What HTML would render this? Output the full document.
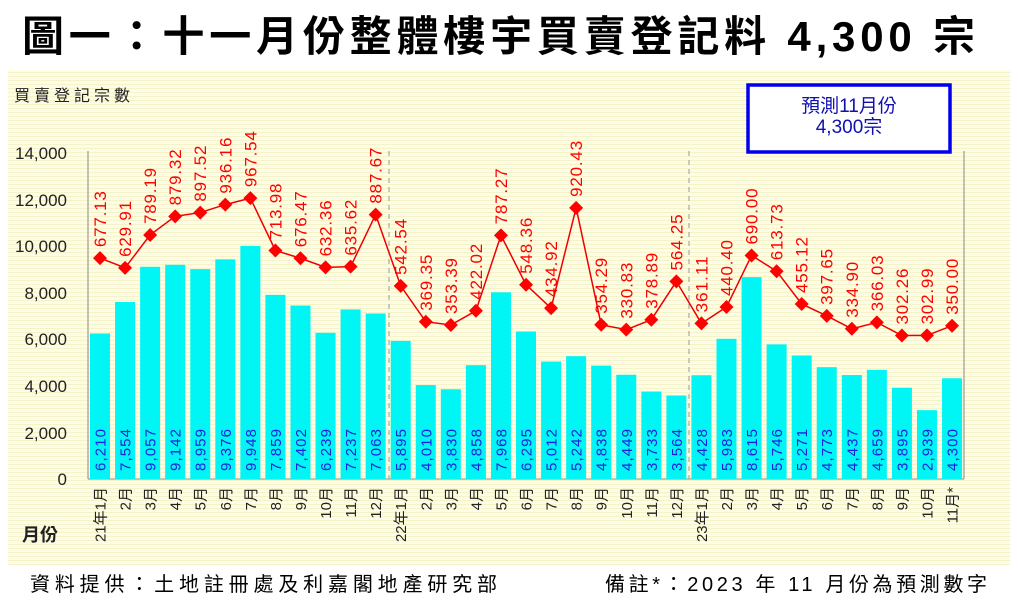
<!DOCTYPE html>
<html><head><meta charset="utf-8"><style>
body{margin:0;background:#fff;width:1018px;height:600px;overflow:hidden}
svg{display:block}
</style></head><body>
<svg width="1018" height="600" xmlns="http://www.w3.org/2000/svg" font-family="'Liberation Sans','Noto Sans CJK TC',sans-serif">
<defs><pattern id="st" width="4" height="4" patternUnits="userSpaceOnUse"><rect width="4" height="4" fill="#fdfce6"/><rect width="4" height="1" fill="#f7f3c8"/></pattern></defs>
<text x="22" y="51" font-size="42" font-weight="bold" fill="#000" textLength="953" lengthAdjust="spacing">圖一：十一月份整體樓宇買賣登記料 4,300 宗</text>
<rect x="8" y="70" width="1002" height="495" fill="url(#st)"/>
<text x="14" y="101" font-size="16" fill="#222" textLength="116">買賣登記宗數</text>
<text x="22" y="541" font-size="18" font-weight="bold" fill="#222">月份</text>
<g font-size="17" fill="#222" text-anchor="end">
<text x="67" y="159">14,000</text><text x="67" y="206">12,000</text><text x="67" y="252">10,000</text>
<text x="67" y="299">8,000</text><text x="67" y="345">6,000</text><text x="67" y="392">4,000</text>
<text x="67" y="439">2,000</text><text x="67" y="485">0</text></g>
<line x1="88" y1="151" x2="88" y2="479" stroke="#888"/>
<line x1="964" y1="151" x2="964" y2="479" stroke="#888"/>
<line x1="88" y1="479" x2="964" y2="479" stroke="#888"/>
<line x1="389" y1="151" x2="389" y2="479" stroke="#999" stroke-dasharray="5,4"/>
<line x1="689" y1="151" x2="689" y2="479" stroke="#999" stroke-dasharray="5,4"/>
<rect x="748" y="85" width="202" height="67" fill="#fff" stroke="#0000ee" stroke-width="3.5"/>
<text x="849" y="112" font-size="19" fill="#1010b0" text-anchor="middle">預測11月份</text>
<text x="849" y="133" font-size="19" fill="#1010b0" text-anchor="middle">4,300宗</text>
<g id="chart"></g>
<text x="30" y="591" font-size="20" fill="#000" textLength="467" lengthAdjust="spacing">資料提供：土地註冊處及利嘉閣地產研究部</text>
<text x="605" y="591" font-size="20" fill="#000" textLength="382" lengthAdjust="spacing">備註*：2023 年 11 月份為預測數字</text>
</svg>
<script>
var b=[6210,7554,9057,9142,8959,9376,9948,7859,7402,6239,7237,7063,5895,4010,3830,4858,7968,6295,5012,5242,4838,4449,3733,3564,4428,5983,8615,5746,5271,4773,4437,4659,3895,2939,4300];
var l=["677.13","629.91","789.19","879.32","897.52","936.16","967.54","713.98","676.47","632.36","635.62","887.67","542.54","369.35","353.39","422.02","787.27","548.36","434.92","920.43","354.29","330.83","378.89","564.25","361.11","440.40","690.00","613.73","455.12","397.65","334.90","366.03","302.26","302.99","350.00"];
var s="",pts=[];
for(var i=0;i<35;i++){var cx=100+i*25.06;var h=b[i]*0.02343;var y=479-h;
s+='<rect x="'+(cx-10)+'" y="'+y+'" width="20" height="'+h+'" fill="#00f5f5"/>';
s+='<text transform="translate('+(cx+5.5)+',471) rotate(-90)" font-size="15" fill="#2020e0" textLength="42">'+b[i].toLocaleString('en-US')+'</text>';
var m=i%12+1;var lab=(i==0?'21年':i==12?'22年':i==24?'23年':'')+m+'月'+(i==34?'*':'');
s+='<text transform="translate('+(cx+5.5)+',487) rotate(-90)" font-size="15" fill="#222" text-anchor="end">'+lab+'</text>';
var ly=398-parseFloat(l[i])*0.2066;pts.push(cx+','+ly);
s+='<text transform="translate('+(cx+6)+','+(ly-11)+') rotate(-90)" font-size="17" fill="#f00" textLength="56">'+l[i]+'</text>';}
s+='<polyline points="'+pts.join(' ')+'" fill="none" stroke="#e00" stroke-width="1.5"/>';
for(i=0;i<35;i++){var p=pts[i].split(',');var x=+p[0],y=+p[1];s+='<polygon points="'+x+','+(y-7)+' '+(x+7)+','+y+' '+x+','+(y+7)+' '+(x-7)+','+y+'" fill="#f00"/>';}
document.getElementById('chart').innerHTML=s;
</script>
</body></html>
